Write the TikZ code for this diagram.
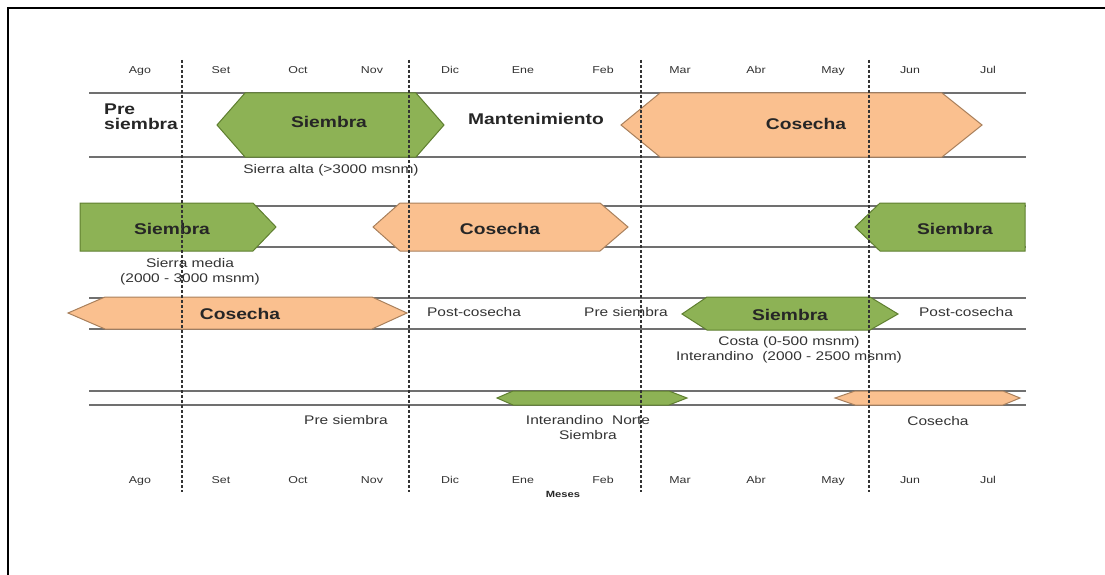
\documentclass[tikz,border=0pt]{standalone}
\usepackage{fontspec}
\setmainfont{Liberation Sans}
\newcommand\wx[1]{\scalebox{1.24}[1]{#1}}
\definecolor{gfill}{HTML}{8DB255}
\definecolor{gline}{HTML}{5F7F30}
\definecolor{ofill}{HTML}{FAC08F}
\definecolor{oline}{HTML}{A9805C}
\definecolor{rowline}{HTML}{707070}
\definecolor{txt}{HTML}{333333}
\tikzset{
  month/.style={font=\fontsize{10}{12}\selectfont, text=txt, inner sep=0pt, anchor=base},
  lab/.style={font=\fontsize{12.5}{15}\selectfont, text=txt, inner sep=0pt, align=center},
  blab/.style={font=\fontsize{15.5}{18}\selectfont\bfseries, text=black!85, inner sep=0pt},
  gshape/.style={fill=gfill, draw=gline, line width=1pt, line join=miter},
  oshape/.style={fill=ofill, draw=oline, line width=1pt, line join=miter},
  rowl/.style={draw=rowline, line width=1.5pt},
  vdash/.style={draw=black!80, line width=1.1pt, dash pattern=on 3pt off 2pt},
  frame/.style={draw=black, line width=2.6pt}
}
\begin{document}
\begin{tikzpicture}[x=1pt,y=-1pt]
\useasboundingbox (0,0) rectangle (1105,575);
% frame
\draw[frame] (1105,8) -- (8,8) -- (8,575);
% row lines
\foreach \y in {93,157,206,247,298,329,391,405}{
  \draw[rowl] (89,\y) -- (1026,\y);
}
% months
\foreach \m/\x [count=\i] in {Ago/140,Set/221,Oct/298,Nov/372,Dic/450,Ene/523,Feb/603,Mar/680,Abr/756,May/833,Jun/910,Jul/988}{
  \node[month] (mt\i) at (\x,74) {\wx{\m}};
  \node[month] (mb\i) at (\x,483) {\wx{\m}};
}
\node[font=\fontsize{9}{11}\selectfont\bfseries, text=black!85, inner sep=0pt] (meses) at (563,494) {\wx{Meses}};
% Row 1
\draw[gshape] (217,125) -- (245,93) -- (416,93) -- (444,125) -- (416,157) -- (245,157) -- cycle;
\draw[oshape] (621,125) -- (660,93) -- (942,93) -- (982,125) -- (942,157) -- (660,157) -- cycle;
\node[blab, align=left, anchor=west] (presiem) at (104,117) {\wx{Pre}\\[-3pt]\wx{siembra}};
\node[blab] (siem1) at (329,122) {\wx{Siembra}};
\node[blab] (mant) at (536,119) {\wx{Mantenimiento}};
\node[blab] (cos1) at (806,124) {\wx{Cosecha}};
\node[lab] (salta) at (331,170) {\wx{Sierra alta (>3000 msnm)}};
% Row 2
\draw[gshape] (80,203) -- (253,203) -- (276,227) -- (253,251) -- (80,251) -- cycle;
\draw[oshape] (373,227) -- (400,203) -- (600,203) -- (628,227) -- (600,251) -- (400,251) -- cycle;
\draw[gshape] (855,227) -- (880,203) -- (1025,203) -- (1025,251) -- (880,251) -- cycle;
\node[blab] (siem2) at (172,229) {\wx{Siembra}};
\node[blab] (cos2) at (500,229) {\wx{Cosecha}};
\node[blab] (siem3) at (955,229) {\wx{Siembra}};
\node[lab] (smedia) at (190,272) {\wx{Sierra media}\\\wx{(2000 - 3000 msnm)}};
% Row 3
\draw[oshape] (68,313) -- (105,297) -- (372,297) -- (407,313) -- (372,329) -- (105,329) -- cycle;
\draw[gshape] (682,314) -- (707,297) -- (870,297) -- (898,314) -- (870,330) -- (707,330) -- cycle;
\node[blab] (cos3) at (240,314) {\wx{Cosecha}};
\node[lab] (post1) at (474,312) {\wx{Post-cosecha}};
\node[lab] (pres1) at (626,312) {\wx{Pre siembra}};
\node[blab] (siem4) at (790,315) {\wx{Siembra}};
\node[lab] (post2) at (966,312) {\wx{Post-cosecha}};
\node[lab] (costa) at (789,350) {\wx{Costa (0-500 msnm)}\\\wx{Interandino\ \ (2000 - 2500 msnm)}};
% Row 4
\draw[gshape] (497,398) -- (513,391) -- (669,391) -- (687,398) -- (669,405) -- (513,405) -- cycle;
\draw[oshape] (835,398) -- (855,391) -- (1003,391) -- (1020,398) -- (1003,405) -- (855,405) -- cycle;
\node[lab] (pres2) at (346,420) {\wx{Pre siembra}};
\node[lab] (inter) at (588,428) {\wx{Interandino\ \ Norte}\\\wx{Siembra}};
\node[lab] (cos4) at (938,421) {\wx{Cosecha}};
% dashed month separators
\foreach \x in {182,409,641,869}{
  \draw[vdash] (\x,60) -- (\x,492);
}
\end{tikzpicture}
\end{document}
